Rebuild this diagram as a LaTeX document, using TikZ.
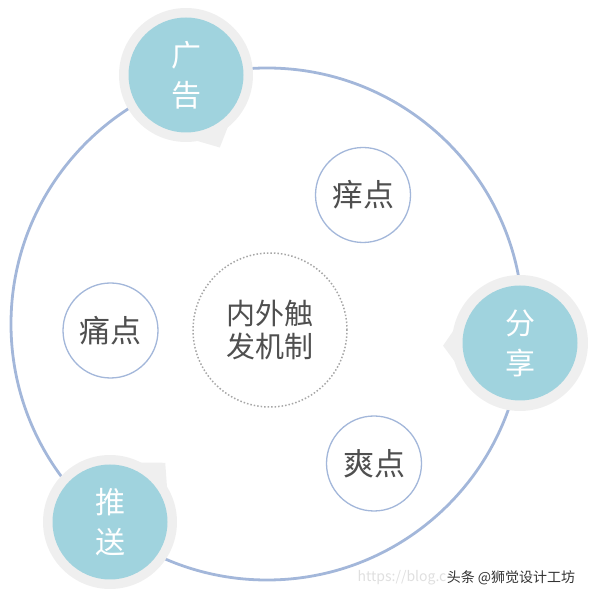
\documentclass[tikz,border=0pt]{standalone}
\usepackage{fontspec}
\setmainfont{Noto Sans CJK SC}
\usepackage{tikz}

\definecolor{ringblue}{HTML}{A3B7DA}
\definecolor{badgeteal}{HTML}{A0D3DE}
\definecolor{badgegray}{HTML}{EFEFEF}
\definecolor{textgray}{HTML}{4F4F4F}

\begin{document}
\begin{tikzpicture}[x=1pt, y=1pt,
    halo/.style = {fill=badgegray},
    badge/.style = {circle, fill=badgeteal, text=white, minimum size=115pt, inner sep=0pt,
                    align=center, font=\fontsize{30}{40}\selectfont},
    spot/.style = {circle, draw=ringblue, line width=1.3pt, fill=white, minimum size=95pt,
                   inner sep=0pt, text=textgray, font=\fontsize{31}{36}\selectfont}]
                        \useasboundingbox (0, 0) rectangle (594, 600);
                        
                        \node (ring) at (267, 276) [circle, draw=ringblue, line width=2.8pt, minimum size=512pt] {};
                        
                        \coordinate (adc) at (186, 525);
                        \coordinate (sharec) at (520, 257);
                        \coordinate (pushc) at (110, 78);
                        
                        % grey halos with their little tails
                        \fill[halo] (adc) circle (67);
                        \fill[halo] ([shift={(-50:66)}]adc) -- ([shift={(-65:80)}]adc) -- ([shift={(-82:66)}]adc) -- cycle;
                        \fill[halo] (sharec) circle (68);
                        \fill[halo] ([shift={(168:67)}]sharec) -- ([shift={(182:77)}]sharec) -- ([shift={(198:67)}]sharec) -- cycle;
                        \fill[halo] (pushc) circle (67);
                        \fill[halo] ([shift={(30:66)}]pushc) -- ([shift={(47:81)}]pushc) -- ([shift={(64:66)}]pushc) -- cycle;
                        
                        \node (ad) at (adc) [badge] {广\\告};
                        \node (share) at (sharec) [badge] {分\\享};
                        \node (push) at (pushc) [badge] {推\\送};
                        
                        \node (itch) at (363, 405) [spot] {痒点};
                        \node (pain) at (110.5, 269.5) [spot] {痛点};
                        \node (joy) at (374, 136.5) [spot] {爽点};
                        
                        \node (core) at (270, 270) [circle, draw=gray!70, dotted, line width=1.5pt, minimum size=154pt,
                              text=textgray, align=center, font=\fontsize{29}{33}\selectfont] {内外触\\发机制};
                        
                        % watermarks
                        \node (blog) at (402, 22) [text=gray!25, font=\fontsize{14}{16}\selectfont] {https://blog.c};
                        \node (mark) at (511, 22) [fill=white, inner sep=1pt, text=black!80, font=\fontsize{14}{16}\selectfont] {头条 @狮觉设计工坊};
                    \end{tikzpicture}
\end{document}
